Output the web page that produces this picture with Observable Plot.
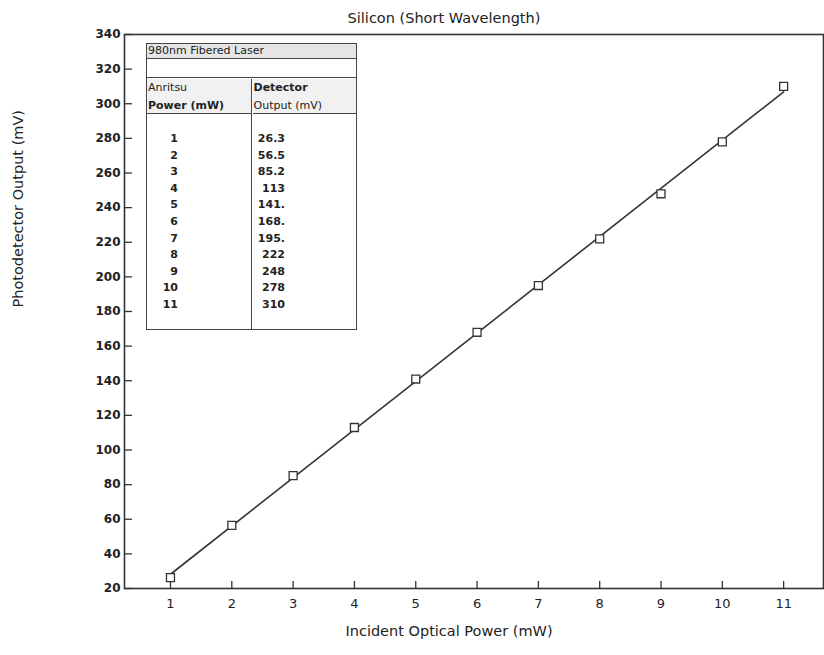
<!DOCTYPE html>
<html>
<head>
<meta charset="utf-8">
<script src="https://cdn.jsdelivr.net/npm/d3@7"></script>
<script src="https://cdn.jsdelivr.net/npm/@observablehq/plot@0.6"></script>
<style>
  html, body { margin: 0; padding: 0; background: white; }
  #wrap { position: relative; width: 824px; height: 655px; }
  #tbl { position: absolute; left: 146px; top: 43px; width: 209px; height: 285px;
         border: 1.5px solid #444; font-family: "DejaVu Sans", sans-serif; color: #222; background: white; }
  #tbl .r1 { position: absolute; left: 0; right: 0; top: 0; height: 14px; border-bottom: 1.5px solid #444;
             font-size: 11px; line-height: 14px; padding-left: 1px; background: #e6e6e6; white-space: nowrap; overflow: hidden; }
  #tbl .r2 { position: absolute; left: 0; right: 0; top: 15.5px; height: 17.5px; border-bottom: 1.5px solid #444; }
  #tbl .hdr { position: absolute; top: 34.5px; height: 34px; border-bottom: 1.5px solid #444; font-size: 11px; line-height: 18px; padding-left: 1px; background: #f1f1f1; white-space: nowrap; overflow: hidden; }
  #tbl .divider { position: absolute; left: 104px; top: 34.5px; bottom: 0; border-left: 1.5px solid #444; }
  #tbl .num { position: absolute; font-weight: bold; font-size: 11px; line-height: 12px; }
</style>
</head>
<body>
<div id="wrap"></div>
<script>
// ---- data ----
const power = [1, 2, 3, 4, 5, 6, 7, 8, 9, 10, 11];               // Incident optical power (mW)
const output = [26.3, 56.5, 85.2, 113, 141, 168, 195, 222, 248, 278, 310]; // Photodetector output (mV)
const outputLabels = ["26.3", "56.5", "85.2", "113", "141.", "168.", "195.", "222", "248", "278", "310"];
const xTicks = [1, 2, 3, 4, 5, 6, 7, 8, 9, 10, 11];
const yTicks = [20, 40, 60, 80, 100, 120, 140, 160, 180, 200, 220, 240, 260, 280, 300, 320, 340];
const title = "Silicon (Short Wavelength)";
const xTitle = "Incident Optical Power (mW)";
const yTitle = "Photodetector Output (mV)";
const tableTitle = "980nm Fibered Laser";
const tableHead1 = ["Anritsu", "Power (mW)"];
const tableHead2 = ["Detector", "Output (mV)"];

const data = power.map((p, i) => ({p, v: output[i], label: outputLabels[i]}));

const chart = Plot.plot({
  width: 824,
  height: 655,
  marginLeft: 124,
  marginRight: 1,
  marginTop: 34,
  marginBottom: 67,
  style: {fontFamily: "DejaVu Sans, sans-serif", background: "white", color: "#222", overflow: "visible"},
  x: {domain: [0.25, 11.65]},
  y: {domain: [20, 340]},
  marks: [
    Plot.axisX(xTicks, {tickSize: 0, tickPadding: 10, fontSize: 13, label: null}),
    Plot.axisX(xTicks, {tickSize: 7, text: null, dy: -7, label: null, stroke: "#333", strokeWidth: 1.3}),
    Plot.axisY(yTicks, {tickSize: 0, tickPadding: 4, fontSize: 12, fontWeight: "bold", label: null}),
    Plot.axisY(yTicks, {tickSize: 8, text: null, dx: 8, label: null, stroke: "#333", strokeWidth: 1.3}),
    Plot.frame({stroke: "#333", strokeWidth: 1.6}),
    Plot.linearRegressionY(data, {x: "p", y: "v", ci: 0, stroke: "#333", strokeWidth: 1.6}),
    Plot.dot(data, {x: "p", y: "v", symbol: "square", r: 4.5, fill: "white", stroke: "#333", strokeWidth: 1.3}),
    Plot.text([title], {frameAnchor: "top", dy: -22, dx: -30, fontSize: 14.5, fill: "#222"}),
    Plot.text([xTitle], {frameAnchor: "bottom", dy: 47, dx: -25, fontSize: 14.5, fill: "#222"}),
    Plot.text([yTitle], {frameAnchor: "left", dx: -106, dy: -4, rotate: -90, fontSize: 14.5, fill: "#222"})
  ]
});

const wrap = document.getElementById("wrap");
wrap.appendChild(chart);

// inset data table (as drawn on the original chart)
const tbl = document.createElement("div");
tbl.id = "tbl";
let html = `<div class="r1">${tableTitle}</div><div class="r2"></div>`;
html += `<div class="hdr" style="left:0;width:103px">${tableHead1[0]}<br><b>${tableHead1[1]}</b></div>`;
html += `<div class="hdr" style="left:105.5px;right:0"><b>${tableHead2[0]}</b><br>${tableHead2[1]}</div>`;
html += `<div class="divider"></div>`;
data.forEach((d, i) => {
  const top = 89 + i * 16.6;
  html += `<div class="num" style="top:${top}px;left:0;width:31px;text-align:right">${d.p}</div>`;
  html += `<div class="num" style="top:${top}px;left:106px;width:32px;text-align:right">${d.label}</div>`;
});
tbl.innerHTML = html;
wrap.appendChild(tbl);
</script>
</body>
</html>
